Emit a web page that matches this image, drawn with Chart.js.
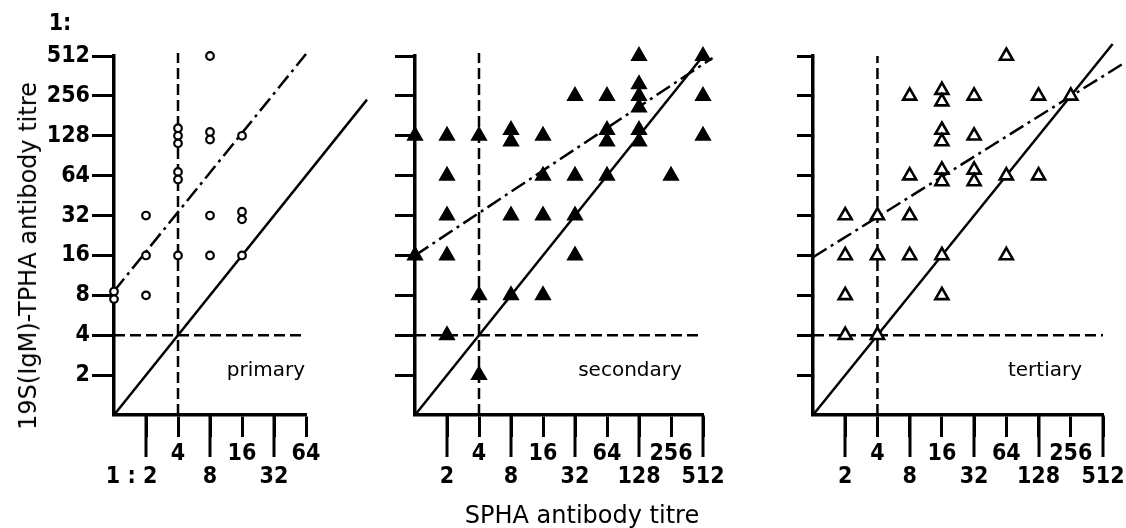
<!DOCTYPE html>
<html>
<head>
<meta charset="utf-8">
<title>SPHA vs 19S(IgM)-TPHA antibody titre</title>
<script src="https://cdn.jsdelivr.net/npm/chart.js@4.4.1/dist/chart.umd.min.js"></script>
<style>
    html, body { margin: 0; padding: 0; background: #fff; }
    #wrap { position: relative; width: 1126px; height: 528px; overflow: hidden; color: #000; font-family: 'DejaVu Sans', sans-serif; }
    #wrap canvas { position: absolute; top: 0; }
    .txt { position: absolute; white-space: nowrap; line-height: 1; transform: translate(-50%, -50%); }
    .num { font-family: 'DejaVu Sans Condensed', 'Liberation Sans Narrow', 'DejaVu Sans', sans-serif; font-size: 23px; font-weight: bold; }
    .title { font-size: 24px; }
    .panel { font-size: 20px; }
    .rot { transform: translate(-50%, -50%) rotate(-90deg); }
</style>
</head>
<body>
<div id="wrap">
    <canvas id="primary-chart" width="375" height="528" style="left:0"></canvas>
    <canvas id="secondary-chart" width="375" height="528" style="left:375px"></canvas>
    <canvas id="tertiary-chart" width="376" height="528" style="left:750px"></canvas>
    <div class="txt num" style="left:60px; top:22px">1:</div>
    <div class="txt title rot" style="left:28px; top:256px">19S(IgM)-TPHA antibody titre</div>
    <div class="txt title" style="left:582px; top:515px">SPHA antibody titre</div>
    <div class="txt panel" style="left:266px; top:369px">primary</div>
    <div class="txt panel" style="left:630px; top:369px">secondary</div>
    <div class="txt panel" style="left:1045px; top:369px">tertiary</div>
</div>
<script>
// tick titres (both axes are log2 titre scales starting at 1:1)
const titreTicks = [2, 4, 8, 16, 32, 64, 128, 256, 512];

// primary syphilis: SPHA titre (x) vs 19S(IgM)-TPHA titre (y)
const primaryX = [1, 1, 2, 2, 4, 8, 16, 2, 8, 16, 16, 4, 4, 4, 4, 4, 8, 8, 16, 8];
const primaryY = [8, 8, 8, 16, 16, 16, 16, 32, 32, 32, 32, 64, 64, 128, 128, 128, 128, 128, 128, 512];

// secondary syphilis
const secondaryX = [128, 512,
    32, 64, 128, 128, 128, 512,
    1, 2, 4, 8, 8, 16, 64, 64, 128, 128, 512,
    2, 16, 32, 64, 256,
    2, 8, 16, 32,
    1, 2, 32,
    4, 8, 16,
    2,
    4];
const secondaryY = [512, 512,
    256, 256, 256, 256, 256, 256,
    128, 128, 128, 128, 128, 128, 128, 128, 128, 128, 128,
    64, 64, 64, 64, 64,
    32, 32, 32, 32,
    16, 16, 16,
    8, 8, 8,
    4,
    2];

// tertiary syphilis
const tertiaryX = [64,
    8, 16, 16, 32, 128, 256,
    16, 16, 32,
    8, 16, 16, 32, 32, 64, 128,
    2, 4, 8,
    2, 4, 8, 16, 64,
    2, 16,
    2, 4];
const tertiaryY = [512,
    256, 256, 256, 256, 256, 256,
    128, 128, 128,
    64, 64, 64, 64, 64, 64, 64,
    32, 32, 32,
    16, 16, 16, 16, 16,
    8, 8,
    4, 4];

// regression lines (dash-dot) and lines of equality (solid), end points as titres
const primaryFitX = [1, 64];
const primaryFitY = [8.6, 530];
const primaryEqual = [1, 240];
const secondaryFitX = [1, 630];
const secondaryFitY = [16, 495];
const secondaryEqual = [1, 512];
const tertiaryFitX = [1, 830];
const tertiaryFitY = [15.5, 460];
const tertiaryEqual = [1, 630];

// cut-off titre 1:4 (dashed lines)
const cutoffTitre = 4;
const cutoffTop = [540, 540, 512];
const cutoffRight = [64, 512, 512];

document.addEventListener('DOMContentLoaded', () => {
    const numFont = { family: "'DejaVu Sans Condensed', 'Liberation Sans Narrow', 'DejaVu Sans', sans-serif", size: 23, weight: 'bold', lineHeight: '23px' };

    // identical readings are drawn stacked on top of each other like in the original figure
    const stackPoints = (xs, ys, gap) => {
        const counts = {}, seen = {};
        xs.forEach((x, i) => { const k = x + '/' + ys[i]; counts[k] = (counts[k] || 0) + 1; });
        return xs.map((x, i) => {
            const k = x + '/' + ys[i];
            seen[k] = seen[k] === undefined ? 0 : seen[k] + 1;
            return { x: Math.log2(x), y: Math.log2(ys[i]) + ((counts[k] - 1) / 2 - seen[k]) * gap };
        });
    };

    const line = (xs, ys, dash) => ({
        data: xs.map((x, i) => ({ x: Math.log2(x), y: Math.log2(ys[i]) })),
        showLine: true, borderColor: '#000', borderWidth: 2.5, borderDash: dash,
        pointRadius: 0, fill: false, clip: false, tension: 0
    });

    // every other x tick is long with its label on the second row
    const longTicks = {
        id: 'longTicks',
        afterDraw(chart) {
            const s = chart.scales.x, ctx = chart.ctx;
            ctx.save();
            ctx.strokeStyle = '#000';
            ctx.lineWidth = 3;
            s.ticks.forEach(t => {
                if (Math.round(t.value) % 2 !== 1) return;
                const px = Math.round(s.getPixelForValue(t.value));
                ctx.beginPath(); ctx.moveTo(px, s.top); ctx.lineTo(px, s.top + 42); ctx.stroke();
            });
            ctx.restore();
        }
    };

    const makePanel = (id, p) => new Chart(document.getElementById(id), {
        type: 'scatter',
        data: {
            datasets: [
                { data: stackPoints(p.xs, p.ys, p.gap), pointStyle: p.style, pointRadius: p.radius,
                  pointBorderWidth: p.border, pointBackgroundColor: p.fill, pointBorderColor: '#000', clip: false },
                line(p.fitX, p.fitY, [16, 5, 3, 5]),
                line(p.equal, p.equal, []),
                line([cutoffTitre, cutoffTitre], [1, p.top], [11, 5]),
                line([1, p.right], [cutoffTitre, cutoffTitre], [11, 5])
            ]
        },
        options: {
            responsive: false, animation: false, devicePixelRatio: 1, events: [],
            layout: { padding: { top: 56, right: p.padRight, bottom: 0, left: 0 } },
            plugins: { legend: { display: false }, tooltip: { enabled: false } },
            scales: {
                x: {
                    type: 'linear', min: 0, max: Math.log2(p.maxTitre),
                    afterBuildTicks: s => { s.ticks = titreTicks.filter(t => t <= p.maxTitre).map(t => ({ value: Math.log2(t) })); },
                    afterFit: s => { s.height = 113; s.paddingLeft = 0; s.paddingRight = 0; },
                    border: { display: true, color: '#000', width: 3.5 },
                    grid: { display: true, drawOnChartArea: false, drawTicks: true, tickLength: 22, tickColor: '#000', tickWidth: 3 },
                    ticks: {
                        autoSkip: false, maxRotation: 0, padding: 6, color: '#000', font: numFont,
                        callback: v => {
                            const t = Math.round(2 ** v);
                            const label = (t === 2 && p.firstLabel) ? p.firstLabel : String(t);
                            return Math.round(v) % 2 === 1 ? ['', label] : [label];
                        }
                    }
                },
                y: {
                    type: 'linear', min: 0, max: 9,
                    afterBuildTicks: s => { s.ticks = titreTicks.map(t => ({ value: Math.log2(t) })); },
                    afterFit: s => { s.width = p.yWidth; s.paddingTop = 0; s.paddingBottom = 0; },
                    border: { display: true, color: '#000', width: 3.5 },
                    grid: { display: true, drawOnChartArea: false, drawTicks: true, tickLength: p.yTick, tickColor: '#000', tickWidth: 3 },
                    ticks: {
                        padding: 2, color: '#000', font: numFont,
                        callback: v => p.yLabels ? String(Math.round(2 ** v)) : ''
                    }
                }
            }
        },
        plugins: [longTicks]
    });

    makePanel('primary-chart', {
        xs: primaryX, ys: primaryY, gap: 0.19, style: 'circle', radius: 3.8, border: 2.2, fill: '#fff',
        fitX: primaryFitX, fitY: primaryFitY, equal: primaryEqual, top: cutoffTop[0], right: cutoffRight[0],
        maxTitre: 64, padRight: 69, yWidth: 114, yTick: 22, yLabels: true, firstLabel: '1 : 2    '
    });
    makePanel('secondary-chart', {
        xs: secondaryX, ys: secondaryY, gap: 0.29, style: 'triangle', radius: 8, border: 2, fill: '#000',
        fitX: secondaryFitX, fitY: secondaryFitY, equal: secondaryEqual, top: cutoffTop[1], right: cutoffRight[1],
        maxTitre: 512, padRight: 47, yWidth: 40, yTick: 20, yLabels: false
    });
    makePanel('tertiary-chart', {
        xs: tertiaryX, ys: tertiaryY, gap: 0.29, style: 'triangle', radius: 7.5, border: 2.6, fill: '#fff',
        fitX: tertiaryFitX, fitY: tertiaryFitY, equal: tertiaryEqual, top: cutoffTop[2], right: cutoffRight[2],
        maxTitre: 512, padRight: 23, yWidth: 63, yTick: 16, yLabels: false
    });
});
</script>
</body>
</html>
